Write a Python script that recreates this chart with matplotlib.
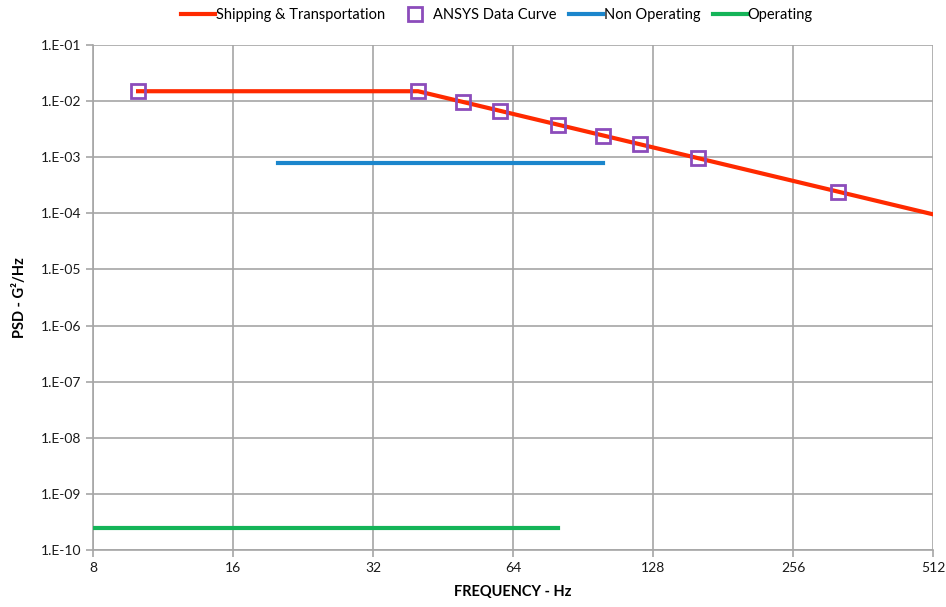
import numpy as np
import matplotlib
matplotlib.use("Agg")
import matplotlib.pyplot as plt
from matplotlib.ticker import FixedLocator, FuncFormatter, NullLocator

plt.rcParams['font.family'] = ['Lato', 'DejaVu Sans']

# Data
ship_f = [10, 40, 512]
ship_psd = [0.015, 0.015, 9.6e-5]

ansys_f = [10, 40, 50, 60, 80, 100, 120, 160, 320]
ansys_psd = [0.015, 0.015, 0.0096, 0.0067, 0.0038, 0.0024, 0.0017, 0.00097, 0.00024]

nonop_f = [20, 100]
nonop_psd = [0.0008, 0.0008]

op_f = [8, 80]
op_psd = [2.5e-10, 2.5e-10]

x_ticks = [8, 16, 32, 64, 128, 256, 512]
y_exps = [-10, -9, -8, -7, -6, -5, -4, -3, -2, -1]

fig = plt.figure(figsize=(9.46, 6.07), dpi=100)
ax = fig.add_axes([93/946, 1-550/607, (933-93)/946, (550-45)/607])

ax.set_xscale('log', base=2)
ax.set_yscale('log')
ax.set_xlim(8, 512)
ax.set_ylim(1e-10, 1e-1)

ax.plot(ship_f, ship_psd, color='#ff2a00', lw=3, label='Shipping & Transportation', zorder=3)
ax.plot(ansys_f, ansys_psd, ls='none', marker='s', ms=9.5, mfc='none', mec='#8c4cbb', mew=2,
        label='ANSYS Data Curve', zorder=4)
ax.plot(nonop_f, nonop_psd, color='#1b86cc', lw=3, label='Non Operating', zorder=3)
ax.plot(op_f, op_psd, color='#14b458', lw=3, label='Operating', zorder=3)

ax.xaxis.set_major_locator(FixedLocator(x_ticks))
ax.xaxis.set_major_formatter(FuncFormatter(lambda v, p: f"{int(round(v))}"))
ax.xaxis.set_minor_locator(NullLocator())
ax.yaxis.set_major_locator(FixedLocator([10.0**e for e in y_exps]))
ax.yaxis.set_major_formatter(FuncFormatter(lambda v, p: f"1.E-{abs(int(round(np.log10(v)))):02d}"))
ax.yaxis.set_minor_locator(NullLocator())

ax.grid(True, which='major', color='#a6a6a6', lw=1.2)
ax.set_axisbelow(True)
for s in ['top', 'right']:
    ax.spines[s].set_visible(False)
for s in ['left', 'bottom']:
    ax.spines[s].set_color('#a6a6a6')
    ax.spines[s].set_linewidth(1.2)
ax.tick_params(axis='both', colors='#a6a6a6', labelcolor='#1a1a1a', labelsize=10, length=5, width=1.2)

ax.set_xlabel('FREQUENCY - Hz', fontsize=10.5, fontweight='bold', labelpad=8)
ax.set_ylabel('PSD - G²/Hz', fontsize=10.5, fontweight='bold', labelpad=10)

fig.legend(loc='center', bbox_to_anchor=(497/946, 1-15/607), ncol=4, frameon=False,
           fontsize=10.5, handlelength=2.35, handletextpad=0.05, columnspacing=0.85)

fig.savefig('out.png', dpi=100)
